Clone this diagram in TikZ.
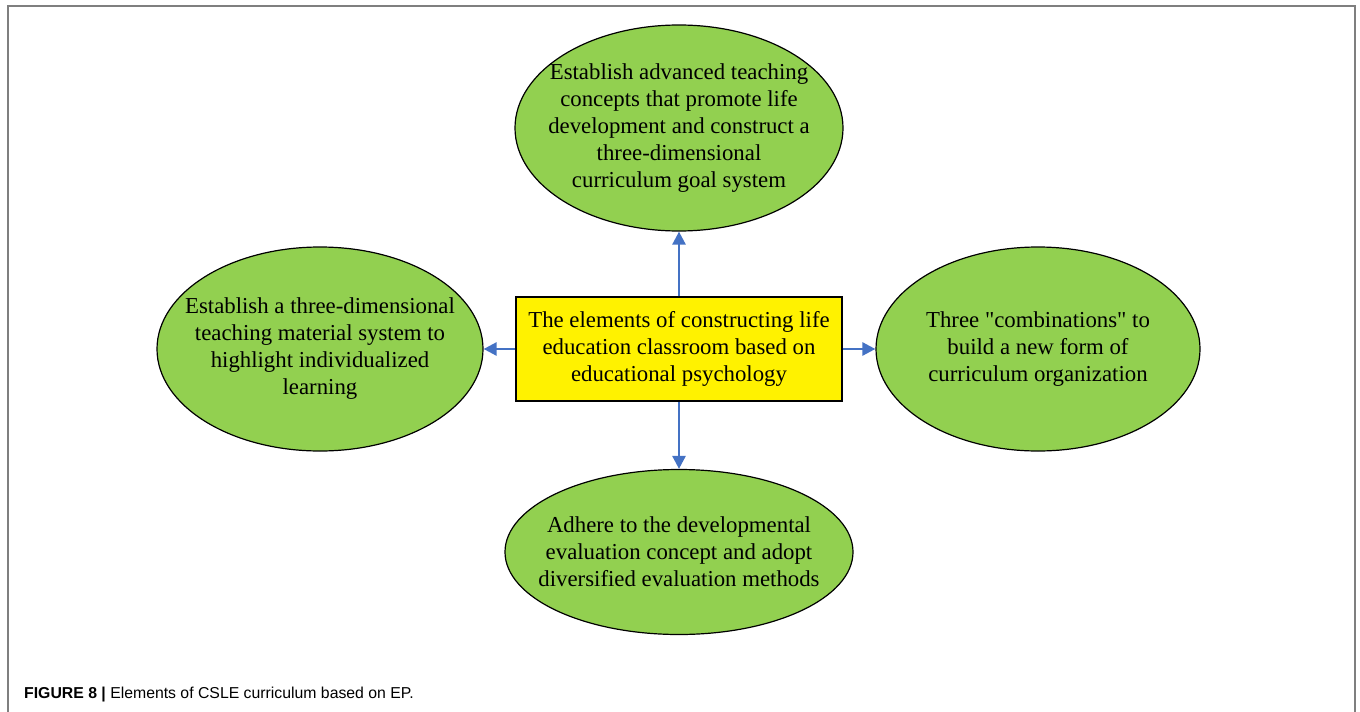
\documentclass[tikz,border=0pt]{standalone}
\usepackage{fontspec}
\setmainfont{Liberation Serif}[Ligatures=TeXOff]
\newfontfamily\capfont{Liberation Sans}
\usetikzlibrary{arrows.meta,shapes.geometric}
\definecolor{elgreen}{HTML}{92D050}
\definecolor{arrblue}{HTML}{4472C4}
\definecolor{framegray}{HTML}{7F7F7F}
\begin{document}
\begin{tikzpicture}[x=1pt,y=-1pt,
  oval/.style={ellipse, draw=black, line width=1.2pt, fill=elgreen, inner sep=0pt},
  ovaltext/.style={align=center, inner sep=0pt, font=\fontsize{22.8}{27}\selectfont},
  centerbox/.style={rectangle, draw=black, line width=1.2pt, fill=yellow, align=center,
    font=\fontsize{22.8}{27}\selectfont},
  conn/.style={draw=arrblue, line width=2.6pt, -{Triangle[length=13pt,width=13pt]}}]
\useasboundingbox (0,0) rectangle (1360,712);
\draw[framegray, line width=2pt] (8,712) -- (8,6) -- (1355,6) -- (1355,712);
\node[centerbox, minimum width=326pt, minimum height=104pt] (c) at (679,349)
  {The elements of constructing life\\education classroom based on\\educational psychology};
\node[oval, minimum width=328pt, minimum height=206pt] (t) at (679,128) {};
\node[ovaltext] (tt) at (t.center)
  {Establish advanced teaching\\concepts that promote life\\development and construct a\\three-dimensional\\curriculum goal system};
\node[oval, minimum width=326pt, minimum height=204pt] (l) at (320,349) {};
\node[ovaltext] (lt) at (l.center)
  {Establish a three-dimensional\\teaching material system to\\highlight individualized\\learning};
\node[oval, minimum width=324pt, minimum height=204pt] (r) at (1038,349) {};
\node[ovaltext] (rt) at (r.center)
  {Three "combinations" to\\build a new form of\\curriculum organization};
\node[oval, minimum width=348pt, minimum height=165pt] (b) at (679,552) {};
\node[ovaltext] (bt) at (b.center)
  {Adhere to the developmental\\evaluation concept and adopt\\diversified evaluation methods};
\draw[conn] (c.north) -- (t.south);
\draw[conn] (c.south) -- (b.north);
\draw[conn] (c.west) -- (l.east);
\draw[conn] (c.east) -- (r.west);
\node[anchor=base west, inner sep=0pt, font=\capfont\fontsize{15.8}{19}\selectfont] (cap) at (24,698)
  {\textbf{FIGURE 8 |} Elements of CSLE curriculum based on EP.};
\end{tikzpicture}
\end{document}
